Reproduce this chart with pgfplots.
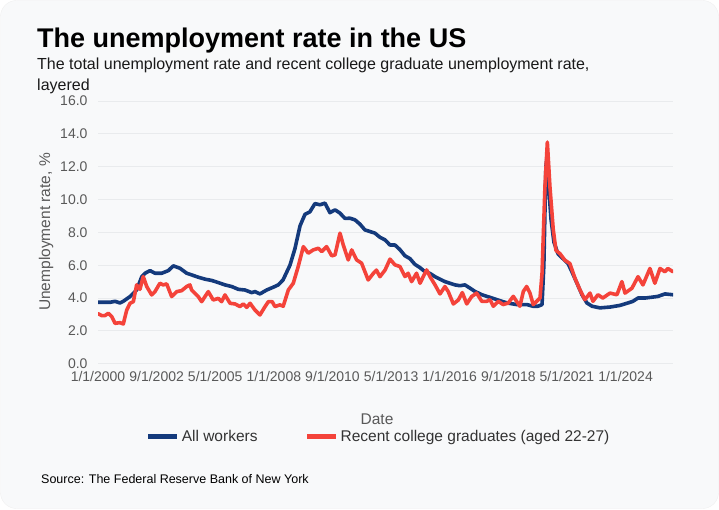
\documentclass[border=0pt]{standalone}
\usepackage{fontspec}
\setmainfont{Liberation Sans}
\usepackage{pgfplots}
\pgfplotsset{compat=1.18}
\definecolor{bgcol}{HTML}{F8F9FA}
\definecolor{navy}{HTML}{143A7C}
\definecolor{redl}{HTML}{F4433A}
\definecolor{tickgray}{HTML}{595959}
\definecolor{gridgray}{HTML}{E9EBED}
\begin{document}
\begin{tikzpicture}[x=1pt,y=1pt]
\useasboundingbox (0,0) rectangle (719,509);
\fill[bgcol, draw=gray!12, rounded corners=16pt] (0.5,0.5) rectangle (718.5,508.5);
\node[anchor=base west, inner sep=0pt, font=\fontsize{27}{30}\selectfont\bfseries] at (37,461) {The unemployment rate in the US};
\node[anchor=base west, inner sep=0pt, font=\fontsize{16}{19}\selectfont, text=black!90] at (37,439.5) {The total unemployment rate and recent college graduate unemployment rate,};
\node[anchor=base west, inner sep=0pt, font=\fontsize{16}{19}\selectfont, text=black!90] at (37,418) {layered};
\node[rotate=90, inner sep=0pt, font=\fontsize{15.5}{18}\selectfont, text=tickgray] at (46,277) {Unemployment rate, \%};
\node[anchor=base, inner sep=0pt, font=\fontsize{15.5}{18}\selectfont, text=tickgray] at (377,85) {Date};
\node[anchor=base west, inner sep=0pt, font=\fontsize{12.5}{15}\selectfont] at (41,26) {Source: The Federal Reserve Bank of New York};
\begin{axis}[
  at={(98pt,145.3pt)}, anchor=south west,
  scale only axis, width=575pt, height=262.7pt,
  xmin=0, xmax=313.9, ymin=0, ymax=16,
  axis line style={draw=none},
  major tick length=0pt,
  ytick={0,2,...,16},
  ymajorgrids, grid style={gridgray, line width=0.8pt},
  xtick={0,32,...,288},
  xticklabels={1/1/2000,9/1/2002,5/1/2005,1/1/2008,9/1/2010,5/1/2013,1/1/2016,9/1/2018,5/1/2021,1/1/2024},
  /pgf/number format/assume math mode=true,
  yticklabel style={/pgf/number format/fixed, /pgf/number format/fixed zerofill, /pgf/number format/precision=1, font=\fontsize{14}{16}\selectfont, text=tickgray, xshift=-7pt},
  xticklabel style={font=\fontsize{14}{16}\selectfont, text=tickgray, yshift=-4pt},
  legend columns=2,
  legend style={at={(0.488,-0.279)}, anchor=center, draw=none, fill=none, font=\fontsize{15.5}{18}\selectfont, text=black!80,
    /tikz/every even column/.append style={column sep=45pt}},
  legend image code/.code={\draw[#1, line width=5pt, line cap=butt] (0pt,0pt) -- (29pt,0pt);},
  every axis plot/.append style={line width=3.6pt, line join=round, line cap=round},
]
\addplot[navy] coordinates {(0,3.74)(6.6,3.74)(9.3,3.8)(12.0,3.7)(13.8,3.8)(17.5,4.09)(21.1,4.49)(23.9,5.3)(25.7,5.51)(28.4,5.67)(31.1,5.51)(34.8,5.51)(38.4,5.67)(41.1,5.96)(44.8,5.81)(48.4,5.51)(51.1,5.41)(54.7,5.27)(58.4,5.15)(62.1,5.07)(65.7,4.94)(69.3,4.8)(73.0,4.7)(76.6,4.53)(80.2,4.49)(83.9,4.33)(85.7,4.39)(88.4,4.25)(92.1,4.49)(95.7,4.66)(98.4,4.8)(101.0,5.1)(104.8,6.0)(107.5,7.0)(110.3,8.4)(113.0,9.1)(115.7,9.25)(118.4,9.75)(121.2,9.68)(123.9,9.78)(126.6,9.2)(129.4,9.37)(132.1,9.17)(134.8,8.85)(137.6,8.86)(140.3,8.76)(143.0,8.5)(145.7,8.15)(148.5,8.05)(151.2,7.95)(153.9,7.7)(156.7,7.54)(159.4,7.23)(162.1,7.23)(164.8,6.95)(167.6,6.57)(170.3,6.4)(173.0,6.05)(175.8,5.85)(178.5,5.6)(181.2,5.5)(184.0,5.3)(186.7,5.15)(189.4,5.0)(192.1,4.9)(194.9,4.8)(197.6,4.75)(200.3,4.8)(203.1,4.6)(205.8,4.4)(209.6,4.2)(212.3,4.1)(215.1,4.0)(217.8,3.9)(220.5,3.8)(223.3,3.7)(226.0,3.65)(228.7,3.6)(231.4,3.6)(234.2,3.6)(237.4,3.5)(240.2,3.5)(242.4,3.6)(243.4,6.0)(244.5,12.0)(245.4,12.8)(246.2,10.5)(247.3,8.8)(248.9,7.4)(251.1,6.7)(253.8,6.4)(256.6,6.1)(258.7,5.6)(261.5,4.9)(264.2,4.2)(266.9,3.7)(269.7,3.5)(274.0,3.4)(279.5,3.45)(284.9,3.55)(289.3,3.7)(292.0,3.8)(294.8,4.0)(298.6,4.0)(302.4,4.05)(305.7,4.1)(309.5,4.25)(313.9,4.2)};
\addlegendentry{All workers}
\addplot[redl] coordinates {(0,3.05)(2.0,2.93)(3.8,2.93)(5.6,3.07)(7.5,2.87)(9.3,2.46)(12.0,2.5)(13.8,2.42)(15.7,3.27)(17.5,3.68)(19.3,3.78)(21.1,4.8)(22.9,4.53)(24.7,5.31)(26.6,4.7)(29.3,4.19)(31.1,4.39)(33.8,4.9)(35.6,4.8)(37.5,4.86)(40.2,4.09)(43.0,4.39)(45.7,4.45)(48.4,4.7)(50.2,4.8)(51.1,4.49)(54.7,4.09)(56.6,3.78)(60.2,4.39)(62.9,3.88)(65.7,3.98)(67.5,3.78)(69.3,4.19)(72.1,3.68)(74.8,3.64)(77.5,3.48)(79.3,3.64)(81.2,3.43)(83.0,3.68)(85.7,3.27)(88.4,2.97)(91.2,3.48)(93.0,3.78)(95.1,3.78)(96.6,3.48)(99.3,3.58)(101.1,3.5)(103.9,4.49)(106.6,4.9)(109.3,5.92)(112.1,7.13)(114.8,6.73)(117.5,6.93)(120.3,7.03)(122.1,6.83)(124.8,7.13)(127.6,6.57)(129.4,6.63)(132.1,7.95)(133.9,7.23)(136.6,6.32)(138.5,6.93)(141.2,6.32)(143.9,6.12)(147.5,5.1)(150.3,5.5)(152.0,5.7)(153.9,5.3)(156.7,5.7)(159.4,6.37)(162.1,6.02)(164.8,5.92)(167.6,5.31)(169.3,5.51)(171.2,5.0)(173.9,5.51)(175.8,4.9)(177.6,5.31)(179.4,5.71)(181.2,5.31)(184.0,4.8)(186.7,4.25)(189.4,4.7)(191.2,4.39)(194.0,3.64)(196.7,3.88)(198.9,4.33)(201.3,3.64)(204.0,4.09)(206.7,4.3)(209.5,3.8)(212.2,3.8)(214.0,3.9)(215.8,3.5)(218.5,3.8)(221.2,3.6)(224.0,3.7)(226.7,4.1)(230.3,3.5)(232.2,4.4)(234.0,4.7)(235.8,4.3)(237.6,3.6)(239.5,3.8)(241.3,4.0)(242.4,5.5)(244.0,10.8)(245.3,13.5)(246.7,10.8)(248.5,8.2)(250.0,6.9)(252.2,6.7)(254.9,6.3)(257.6,6.1)(260.4,5.2)(263.1,4.5)(265.8,3.9)(268.6,4.3)(270.2,3.8)(272.9,4.2)(275.6,4.0)(279.5,4.3)(283.3,4.2)(286.0,5.0)(287.7,4.3)(291.5,4.6)(294.8,5.3)(297.5,4.8)(301.3,5.8)(304.0,4.9)(306.8,5.8)(309.5,5.6)(311.1,5.8)(313.9,5.6)};
\addlegendentry{Recent college graduates (aged 22-27)}
\end{axis}
\end{tikzpicture}
\end{document}
